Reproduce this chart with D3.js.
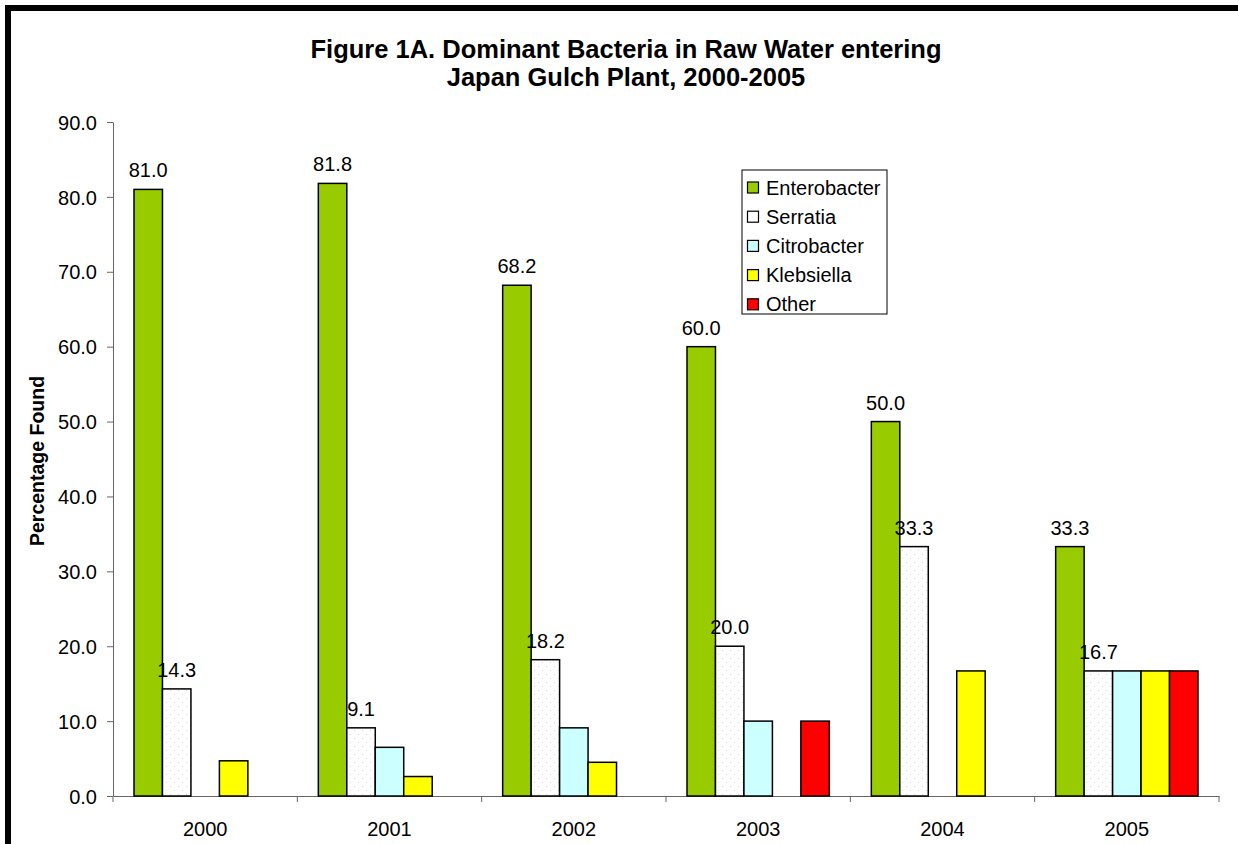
<!DOCTYPE html>
<html><head><meta charset="utf-8">
<script src="https://cdn.jsdelivr.net/npm/d3@7"></script>
<style>body{margin:0;background:#fff;} svg{display:block;font-family:Arial,"Liberation Sans",sans-serif;}</style>
</head><body>
<svg id="c" width="1238" height="844"></svg>
<script>
const years = ["2000","2001","2002","2003","2004","2005"];
const seriesNames = ["Enterobacter","Serratia","Citrobacter","Klebsiella","Other"];
const enterobacter = [81.0, 81.8, 68.2, 60.0, 50.0, 33.3];
const serratia     = [14.3, 9.1, 18.2, 20.0, 33.3, 16.7];
const citrobacter  = [0, 6.5, 9.1, 10.0, 0, 16.7];
const klebsiella   = [4.7, 2.6, 4.5, 0, 16.7, 16.7];
const other        = [0, 0, 0, 10.0, 0, 16.7];
const yTicks = [0,10,20,30,40,50,60,70,80,90];
const colors = ["#99cc00","url(#dots)","#ccffff","#ffff00","#ff0000"];
const legendColors = ["#99cc00","#ffffff","#ccffff","#ffff00","#ff0000"];
const labeled = [true,true,false,false,false];

const FONT = "Arial,'Liberation Sans',sans-serif";
const seriesValues = [enterobacter, serratia, citrobacter, klebsiella, other];
const svg = d3.select("#c");
const defs = svg.append("defs");
const pat = defs.append("pattern").attr("id","dots").attr("patternUnits","userSpaceOnUse")
  .attr("width",8).attr("height",8);
pat.append("rect").attr("width",8).attr("height",8).attr("fill","#fff");
pat.append("rect").attr("x",2).attr("y",2).attr("width",1).attr("height",1).attr("fill","#d8d8d8");
pat.append("rect").attr("x",6).attr("y",6).attr("width",1).attr("height",1).attr("fill","#d8d8d8");

// border
svg.append("rect").attr("x",8).attr("y",8).attr("width",1300).attr("height",900)
  .attr("fill","none").attr("stroke","#000").attr("stroke-width",6);

const x0 = d3.scaleBand().domain(years).range([113,1219]).paddingInner(0).paddingOuter(0);
const inner = d3.scaleBand().domain(seriesNames).range([21, x0.bandwidth()-21]);
const y = d3.scaleLinear().domain([0,90]).range([796,122]);

// title
const title = svg.append("text").attr("text-anchor","middle").attr("font-weight","bold")
  .attr("font-size",25.5).attr("fill","#000");
title.append("tspan").attr("x",626).attr("y",58).text("Figure 1A. Dominant Bacteria in Raw Water entering");
title.append("tspan").attr("x",626).attr("y",86).text("Japan Gulch Plant, 2000-2005");

// y axis
const yAxis = svg.append("g").attr("transform","translate(113,0)")
  .call(d3.axisLeft(y).tickValues(yTicks).tickFormat(d3.format(".1f")).tickSize(6).tickSizeOuter(0));
yAxis.select(".domain").attr("stroke","#666");
yAxis.selectAll(".tick line").attr("stroke","#666");
yAxis.selectAll(".tick text").attr("font-size",20).attr("fill","#000").attr("x",-16).attr("dy","0.36em").attr("font-family",FONT);

// x axis
const xAxis = svg.append("g").attr("transform","translate(0,796)")
  .call(d3.axisBottom(x0).tickSize(0).tickSizeOuter(0));
xAxis.select(".domain").attr("stroke","#666");
xAxis.selectAll(".tick text").attr("font-size",20).attr("fill","#000").attr("y",0).attr("dy","2em").attr("font-family",FONT);
// category boundary ticks
const bounds = years.map(yv => x0(yv)).concat([x0(years[years.length-1]) + x0.bandwidth()]);
svg.append("g").selectAll("line").data(bounds).join("line")
  .attr("x1",d=>d).attr("x2",d=>d).attr("y1",796).attr("y2",802).attr("stroke","#666");

// y label
svg.append("text").attr("transform","translate(44,461) rotate(-90)")
  .attr("text-anchor","middle").attr("font-weight","bold").attr("font-size",19.5)
  .text("Percentage Found");

// bars
seriesNames.forEach((s,si) => {
  const g = svg.append("g");
  years.forEach((yr,i) => {
    const v = seriesValues[si][i];
    if (!v) return;
    const bx = x0(yr) + inner(s);
    g.append("rect").attr("x",bx).attr("y",y(v)).attr("width",inner.bandwidth())
      .attr("height",y(0)-y(v)).attr("fill",colors[si]).attr("stroke","#000").attr("stroke-width",1.5);
  });
});
seriesNames.forEach((s,si) => {
  if (!labeled[si]) return;
  years.forEach((yr,i) => {
    const v = seriesValues[si][i];
    if (!v) return;
    const cx = x0(yr) + inner(s) + inner.bandwidth()/2;
    svg.append("text").attr("x",cx).attr("y",y(v)-12).attr("text-anchor","middle")
      .attr("font-size",20).attr("fill","#000").text(d3.format(".1f")(v));
  });
});

// legend
const lg = svg.append("g").attr("transform","translate(742,170)");
lg.append("rect").attr("width",145).attr("height",144).attr("fill","#fff").attr("stroke","#000").attr("stroke-width",1);
seriesNames.forEach((s,i) => {
  const yy = 17.5 + i*29.2;
  lg.append("rect").attr("x",5.5).attr("y",yy-5.5).attr("width",11).attr("height",11)
    .attr("fill",legendColors[i]).attr("stroke","#000").attr("stroke-width",1.2);
  lg.append("text").attr("x",24).attr("y",yy+7).attr("font-size",20).attr("fill","#000").text(s);
});
</script>
</body></html>
